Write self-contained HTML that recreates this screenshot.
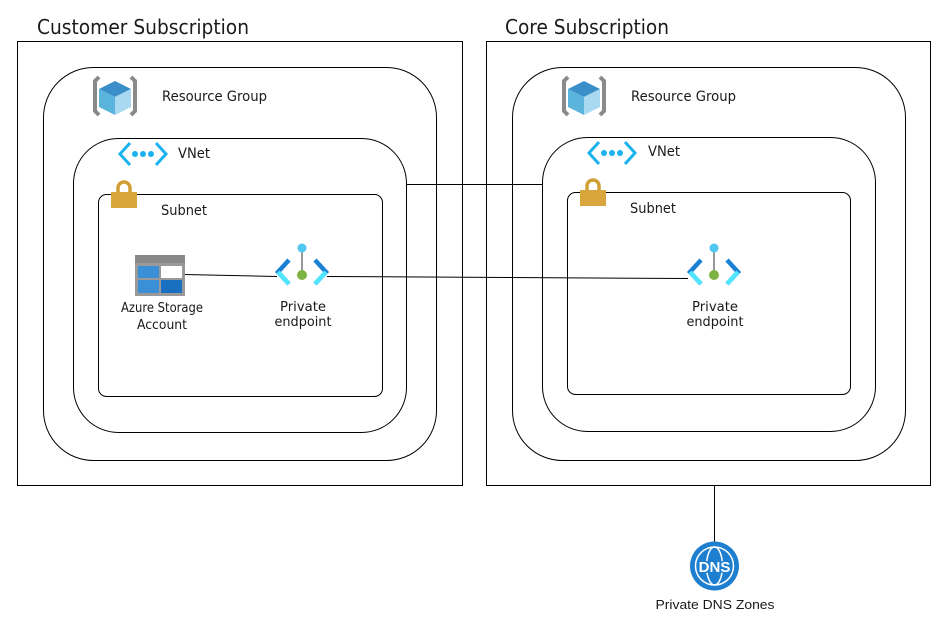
<!DOCTYPE html>
<html><head><style>body{margin:0;background:#fff}svg{display:block}text{font-family:"DejaVu Sans",sans-serif;fill:#1a1a1a}</style></head><body>
<svg width="950" height="623" viewBox="0 0 950 623" xmlns="http://www.w3.org/2000/svg">
<defs>
<g id="rg"><path d="M6 2 L2 6 L2 36 L6 40 M38 2 L42 6 L42 36 L38 40" stroke="#8a8a8a" stroke-width="4" fill="none"/>
<polygon points="22,6 38,14 22,22 6,14" fill="#3a8fc8"/><polygon points="6,14 22,22 22,40 6,32" fill="#5ab4dc"/><polygon points="22,22 38,14 38,32 22,40" fill="#a9d9f0"/></g>
<g id="vnet"><path d="M12 2 L2 13 L12 24 M38 2 L48 13 L38 24" stroke="#1ab2ef" stroke-width="3" fill="none"/><circle cx="17" cy="13" r="3" fill="#1ab2ef"/><circle cx="25" cy="13" r="3" fill="#1ab2ef"/><circle cx="33" cy="13" r="3" fill="#1ab2ef"/></g>
<g id="lock"><path d="M7 12 V7 a6 6 0 0 1 12 0 V12" stroke="#d19f33" stroke-width="3.5" fill="none"/><rect x="0" y="11" width="26" height="16" fill="#d8a63c"/></g>
<g id="pe"><path d="M12 16 L1 28 L12 40" stroke="#1a80d4" stroke-width="4.5" fill="none"/><path d="M38 16 L49 28 L38 40" stroke="#1a80d4" stroke-width="4.5" fill="none"/><path d="M1 28 L12 40 M49 28 L38 40" stroke="#50e6ff" stroke-width="4.5"/><line x1="25" y1="4" x2="25" y2="30" stroke="#999" stroke-width="2"/><circle cx="25" cy="4" r="4.5" fill="#50c8f0"/><circle cx="25" cy="31" r="5" fill="#7cb342"/></g>
</defs>
<text x="37" y="34" font-size="20" textLength="212" lengthAdjust="spacingAndGlyphs">Customer Subscription</text>
<text x="505" y="34" font-size="20" textLength="164" lengthAdjust="spacingAndGlyphs">Core Subscription</text>
<g fill="none" stroke="#000" stroke-width="1">
<rect x="17.5" y="41.5" width="445" height="444"/>
<rect x="486.5" y="41.5" width="444" height="444"/>
<rect x="43.5" y="67.5" width="393" height="393" rx="50"/>
<rect x="73.5" y="138.5" width="333" height="294" rx="45"/>
<rect x="98.5" y="194.5" width="284" height="202" rx="8"/>
<rect x="512.5" y="67.5" width="393" height="393" rx="50"/>
<rect x="542.5" y="137.5" width="333" height="294" rx="45"/>
<rect x="567.5" y="192.5" width="283" height="202" rx="8"/>
<line x1="406" y1="184.5" x2="542" y2="184.5"/>
<line x1="184" y1="274.5" x2="277" y2="276.5"/>
<line x1="327" y1="276.5" x2="688" y2="278.5"/>
<line x1="714.5" y1="485" x2="714.5" y2="542"/>
</g>
<use href="#rg" x="93" y="75"/><use href="#rg" x="562" y="75"/>
<text x="162" y="101" font-size="14" textLength="105" lengthAdjust="spacingAndGlyphs">Resource Group</text>
<text x="631" y="101" font-size="14" textLength="105" lengthAdjust="spacingAndGlyphs">Resource Group</text>
<use href="#vnet" x="118" y="141"/><use href="#vnet" x="587" y="140"/>
<text x="178" y="158" font-size="14" textLength="32" lengthAdjust="spacingAndGlyphs">VNet</text>
<text x="648" y="156" font-size="14" textLength="32" lengthAdjust="spacingAndGlyphs">VNet</text>
<use href="#lock" x="111" y="181"/><use href="#lock" x="580" y="179"/>
<text x="161" y="215" font-size="14" textLength="46" lengthAdjust="spacingAndGlyphs">Subnet</text>
<text x="630" y="213" font-size="14" textLength="46" lengthAdjust="spacingAndGlyphs">Subnet</text>
<rect x="135" y="255" width="50" height="41" fill="#999"/><rect x="135" y="255" width="50" height="8" fill="#888"/>
<rect x="138" y="266" width="21" height="12" fill="#3b8fd6"/><rect x="161" y="266" width="21" height="12" fill="#fff"/>
<rect x="138" y="280" width="21" height="13" fill="#3b8fd6"/><rect x="161" y="280" width="21" height="13" fill="#1a70c0"/>
<text x="162" y="312" font-size="13" text-anchor="middle" textLength="82" lengthAdjust="spacingAndGlyphs">Azure Storage</text>
<text x="162" y="329" font-size="13" text-anchor="middle" textLength="50" lengthAdjust="spacingAndGlyphs">Account</text>
<use href="#pe" x="277" y="244"/><use href="#pe" x="689" y="244"/>
<text x="303" y="311" font-size="13" text-anchor="middle" textLength="46" lengthAdjust="spacingAndGlyphs">Private</text>
<text x="303" y="326" font-size="13" text-anchor="middle" textLength="57" lengthAdjust="spacingAndGlyphs">endpoint</text>
<text x="715" y="311" font-size="13" text-anchor="middle" textLength="46" lengthAdjust="spacingAndGlyphs">Private</text>
<text x="715" y="326" font-size="13" text-anchor="middle" textLength="57" lengthAdjust="spacingAndGlyphs">endpoint</text>
<circle cx="714.5" cy="566" r="24.5" fill="#1e7fd0"/>
<circle cx="714.5" cy="566" r="19" fill="none" stroke="#fff" stroke-width="1.5"/>
<ellipse cx="714.5" cy="566" rx="8" ry="19" fill="none" stroke="#fff" stroke-width="1.5"/>
<text x="714.5" y="572" font-size="15" font-weight="bold" text-anchor="middle" style="font-family:'Liberation Sans',sans-serif;fill:#fff;stroke:#1e7fd0;stroke-width:3;paint-order:stroke">DNS</text>
<text x="715" y="609" font-size="13" text-anchor="middle" style="font-family:'Liberation Sans',sans-serif" textLength="119" lengthAdjust="spacingAndGlyphs">Private DNS Zones</text>
</svg>
</body></html>
